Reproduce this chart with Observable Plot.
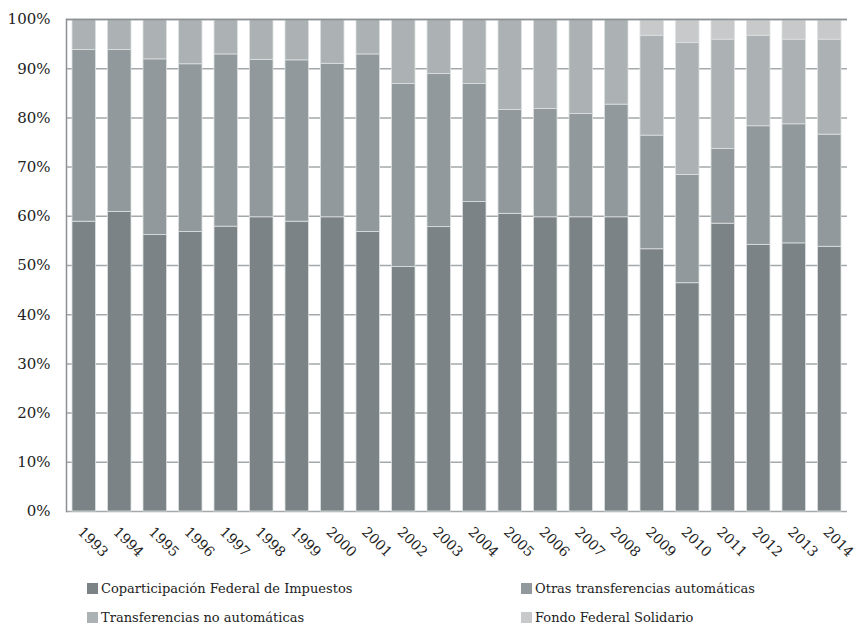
<!DOCTYPE html>
<html>
<head>
<meta charset="utf-8">
<script src="https://cdn.jsdelivr.net/npm/d3@7"></script>
<script src="https://cdn.jsdelivr.net/npm/@observablehq/plot@0.6"></script>
<style>
  body { margin: 0; background: #fff; font-family: "DejaVu Serif", "Liberation Serif", serif; }
  #legend { position: relative; width: 858px; height: 52px; margin-top: 2px; font-size: 13px; color: #222; }
  .item { position: absolute; height: 29px; display: flex; align-items: center; }
  .sw { width: 11px; height: 11px; margin-right: 3px; }
</style>
</head>
<body>
<div id="chart"></div>
<div id="legend"></div>
<script>
const years = ["1993","1994","1995","1996","1997","1998","1999","2000","2001","2002","2003","2004","2005","2006","2007","2008","2009","2010","2011","2012","2013","2014"];
const series = ["Coparticipación Federal de Impuestos","Otras transferencias automáticas","Transferencias no automáticas","Fondo Federal Solidario"];
const colors = ["#7b8386","#92999c","#acb1b3","#c8c9cb"];
const copart = [58.9,60.9,56.2,56.8,57.9,59.8,58.9,59.8,56.8,49.7,57.8,62.9,60.5,59.8,59.8,59.8,53.3,46.4,58.5,54.2,54.5,53.8];
const otras  = [34.9,32.9,35.7,34.1,35.0,32.0,32.8,31.2,36.1,37.2,31.1,24.0,21.1,22.0,21.0,22.9,23.1,22.0,15.2,24.1,24.2,22.8];
const noAuto = [6.2,6.2,8.1,9.1,7.1,8.2,8.3,9.0,7.1,13.1,11.1,13.1,18.4,18.2,19.2,17.3,20.3,26.8,22.2,18.4,17.2,19.3];
const fondo  = [0,0,0,0,0,0,0,0,0,0,0,0,0,0,0,0,3.3,4.8,4.1,3.3,4.1,4.1];
const yTicks = [0,10,20,30,40,50,60,70,80,90,100];

const cols = [copart, otras, noAuto, fondo];
const data = [];
years.forEach((yr, i) => series.forEach((s, k) => data.push({year: yr, series: s, value: cols[k][i]})));

const chart = Plot.plot({
  width: 858,
  height: 572,
  marginLeft: 66,
  marginRight: 11,
  marginTop: 19,
  marginBottom: 61,
  style: {fontFamily: "'DejaVu Serif', 'Liberation Serif', serif", fontSize: "15px", color: "#222", background: "#fff"},
  x: {domain: years, padding: 0, round: false, label: null},
  y: {domain: [0, 100], label: null},
  color: {domain: series, range: colors},
  marks: [
    Plot.ruleY(yTicks, {stroke: "#a3a8aa", strokeWidth: 1.5}),
    Plot.barY(data, {x: "year", y: "value", fill: "series", order: series, insetLeft: 6, insetRight: 6, stroke: "#dde0e1", strokeWidth: 0.8}),
    Plot.ruleY([100], {stroke: "#8c9193", strokeWidth: 1.5}),
    Plot.frame({anchor: "left", stroke: "#8c9193", strokeWidth: 1.5}),
    Plot.axisY({ticks: yTicks, tickFormat: d => d + "%", tickSize: 0, tickPadding: 16, label: null, fontSize: 15}),
    Plot.axisX({tickSize: 0, tickRotate: 45, tickPadding: 18, dx: -4, label: null, fontSize: 14})
  ]
});
document.getElementById("chart").appendChild(chart);

const legend = document.getElementById("legend");
const pos = [[87, 0], [521, 0], [87, 29], [521, 29]];
series.forEach((s, k) => {
  const it = document.createElement("div");
  it.className = "item";
  it.style.left = pos[k][0] + "px";
  it.style.top = pos[k][1] + "px";
  const sw = document.createElement("span");
  sw.className = "sw";
  sw.style.background = colors[k];
  const t = document.createElement("span");
  t.textContent = s;
  it.appendChild(sw); it.appendChild(t);
  legend.appendChild(it);
});
</script>
</body>
</html>
